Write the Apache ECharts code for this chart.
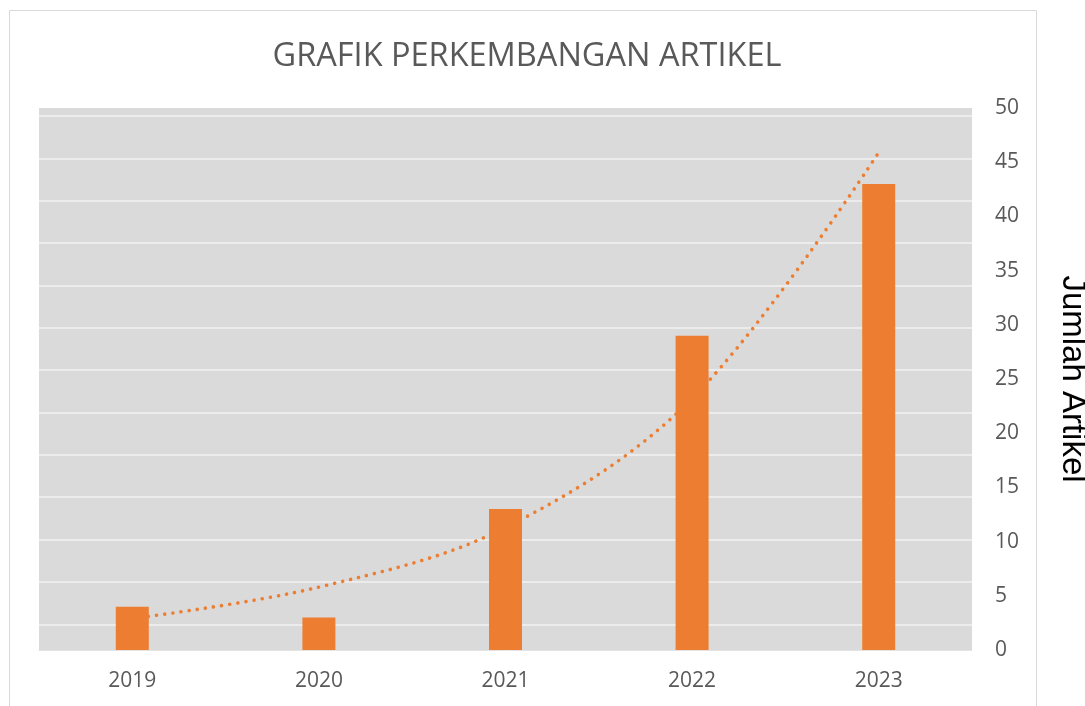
<!DOCTYPE html>
<html>
<head>
<meta charset="utf-8">
<style>
  html, body { margin: 0; padding: 0; background: #fff; }
  #chart { width: 1085px; height: 706px; }
</style>
<script src="https://cdn.jsdelivr.net/npm/echarts@6/dist/echarts.min.js"></script>
</head>
<body>
<div id="chart"></div>
<script>
  // data
  const years = ['2019', '2020', '2021', '2022', '2023'];
  const jumlahArtikel = [4, 3, 13, 29, 43];
  const trendValues = [2.9, 5.8, 11.3, 23.2, 45.9];   // exponential trend line, read at each year
  const yTicks = { min: 0, max: 50, interval: 5 };

  const orange = '#ED7D31';
  const textGray = '#595959';
  const font = '"Open Sans", "Liberation Sans", sans-serif';

  let myChart = echarts.init(document.getElementById('chart'));
  let option = {
    animation: false,
    title: {
      text: 'GRAFIK PERKEMBANGAN ARTIKEL',
      left: 522,
      textAlign: 'center',
      top: 35,
      textStyle: { fontFamily: font, fontSize: 32.5, fontWeight: 'normal', color: textGray }
    },
    graphic: [{
      type: 'rect',
      shape: { x: 9.5, y: 10.5, width: 1027, height: 740 },
      style: { fill: 'none', stroke: '#d9d9d9', lineWidth: 1 },
      silent: true
    }],
    grid: [
      { left: 39, right: 113, top: 108, bottom: 56, show: true, backgroundColor: '#dadada', borderWidth: 0, outerBoundsMode: 'none' },
      // the white gridlines in the plot sit on their own spacing
      { left: 39, right: 113, top: 116, height: 508.3, outerBoundsMode: 'none' }
    ],
    xAxis: [{
      type: 'category',
      data: years,
      gridIndex: 0,
      axisTick: { show: false },
      axisLine: { lineStyle: { color: '#e4e4e4', width: 1 } },
      axisLabel: { fontFamily: font, fontSize: 21, color: textGray, margin: 21 }
    }, {
      type: 'value',
      gridIndex: 1,
      show: false
    }],
    yAxis: [{
      type: 'value',
      gridIndex: 0,
      position: 'right',
      min: yTicks.min,
      max: yTicks.max,
      interval: yTicks.interval,
      splitLine: { show: false },
      axisLine: { show: false },
      axisTick: { show: false },
      axisLabel: { fontFamily: font, fontSize: 21, color: textGray, margin: 23 },
      name: 'Jumlah Artikel',
      nameLocation: 'middle',
      nameRotate: -90,
      nameGap: 84,
      nameTextStyle: { fontFamily: '"Liberation Sans", Arial, sans-serif', fontSize: 33, color: '#000' }
    }, {
      type: 'value',
      gridIndex: 1,
      min: 0,
      max: 12,
      interval: 1,
      axisLine: { show: false },
      axisTick: { show: false },
      axisLabel: { show: false },
      splitLine: { show: true, lineStyle: { color: '#f2f2f2', width: 1.5 } }
    }],
    series: [{
      name: 'Jumlah Artikel',
      type: 'bar',
      xAxisIndex: 0,
      yAxisIndex: 0,
      barWidth: 33,
      itemStyle: { color: orange },
      data: jumlahArtikel,
      z: 2
    }, {
      name: 'Trend',
      type: 'line',
      xAxisIndex: 0,
      yAxisIndex: 0,
      smooth: 0.35,
      showSymbol: false,
      lineStyle: { color: orange, width: 3.6, type: [0.01, 8.2], cap: 'round' },
      data: trendValues,
      z: 3
    }]
  };
  myChart.setOption(option);
</script>
</body>
</html>
